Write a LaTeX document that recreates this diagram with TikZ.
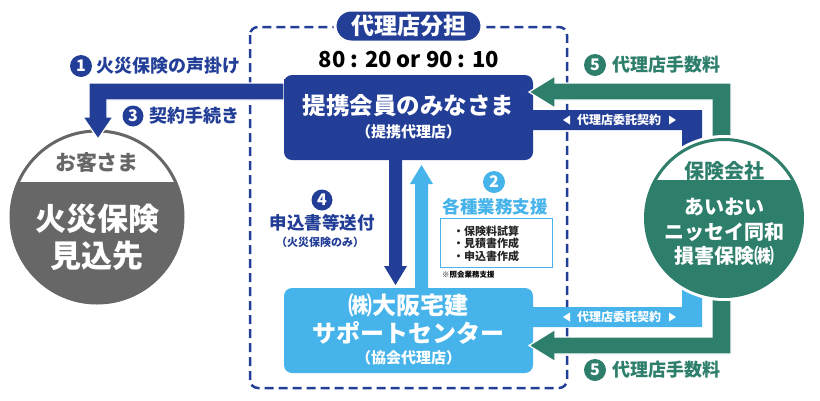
\documentclass[tikz,border=0pt]{standalone}
\usepackage{fontspec}
\setmainfont{Noto Sans CJK JP}[BoldFont={Noto Sans CJK JP Black}]
\definecolor{dblue}{HTML}{233E97}
\definecolor{lblue}{HTML}{46B3EA}
\definecolor{dgreen}{HTML}{2E7E6C}
\definecolor{dgray}{HTML}{676767}
\newcommand\fs[1]{\fontsize{#1}{#1}\selectfont}
\begin{document}
\begin{tikzpicture}[x=1pt,y=-1pt,
  every node/.style={inner sep=0pt, outer sep=0pt},
  lbl/.style={font=\bfseries\fs{#1}},
  numc/.style={circle, fill=#1, text=white, minimum size=22pt, font=\bfseries\fs{16}},
  mainbox/.style={rounded corners=8pt, minimum width=249pt, minimum height=85pt},
  tri/.style={fill=white}
]
\useasboundingbox (0,0) rectangle (820,400);

% dashed frame
\draw[dblue, line width=2.5pt, dash pattern=on 9pt off 5pt, rounded corners=8pt] (250,27) rectangle (567,388);
\node[fill=dblue, draw=white, line width=3pt, rounded corners=16pt, minimum width=147pt, minimum height=32pt, text=white, lbl=23] (pill) at (408.5,26) {代理店分担};
\node[lbl=22, text=black] (ratio) at (409,60) {80 : 20 or 90 : 10};

% boxes
\node[mainbox, fill=dblue] (member) at (408.5,117.5) {};
\node[mainbox, fill=lblue] (center) at (408.5,330.5) {};

% contract bars
\fill[dblue] (member.east |- 0,110) -- (702,110) -- (702,150) -- (682,150) -- (682,130) -- (member.east |- 0,130) -- cycle;
\fill[lblue] (center.east |- 0,327) -- (702,327) -- (702,285) -- (682,285) -- (682,307) -- (center.east |- 0,307) -- cycle;
\node[text=white, lbl=12] (ct1) at (619,120) {代理店委託契約};
\node[text=white, lbl=12] (ct2) at (619,317) {代理店委託契約};
\fill[tri] (563,120) -- (570,115.5) -- (570,124.5) -- cycle;
\fill[tri] (676,120) -- (669,115.5) -- (669,124.5) -- cycle;
\fill[tri] (563,317) -- (570,312.5) -- (570,321.5) -- cycle;
\fill[tri] (676,317) -- (669,312.5) -- (669,321.5) -- cycle;

% customer circle
\coordinate (cc) at (97,217);
\fill[white] (cc) circle (90);
\fill[dgray] (cc) circle (87);
\begin{scope}
  \clip (cc) circle (87);
  \fill[white] (0,120) rectangle (200,182);
\end{scope}
\draw[dgray, line width=3pt] (cc) circle (86);
\node[text=dgray, lbl=21] (cust1) at (97,163) {お客さま};
\node[text=white, lbl=31] (cust2) at (97,219) {火災保険};
\node[text=white, lbl=31] (cust3) at (97,256) {見込先};

% left arrow (dark blue)
\filldraw[dblue, draw=white, line width=1.2pt] (member.west |- 0,83) -- (89,83) -- (89,117) -- (83,117) -- (98,139) -- (113,117) -- (107,117) -- (107,100) -- (member.west |- 0,100) -- cycle;
\fill[dblue] (member.north west) ++(0,4) rectangle ++(4,30);

% green arrows
\filldraw[dgreen, draw=white, line width=1.2pt] (529,92) -- (555,76) -- (555,83) -- (731,83) -- (731,150) -- (712,150) -- (712,100) -- (555,100) -- (555,108) -- cycle;
\filldraw[dgreen, draw=white, line width=1.2pt] (529,345.5) -- (555,329.5) -- (555,337) -- (712,337) -- (712,285) -- (731,285) -- (731,354) -- (555,354) -- (555,361.5) -- cycle;

% insurance circle
\coordinate (ic) at (724,218);
\fill[white] (ic) circle (83);
\fill[dgreen] (ic) circle (79.5);
\begin{scope}
  \clip (ic) circle (79.5);
  \fill[white] (640,130) rectangle (810,180);
\end{scope}
\draw[dgreen, line width=3pt] (ic) circle (78.5);
\node[text=dgreen, lbl=20] (ins1) at (724,171) {保険会社};
\node[text=white, lbl=20] (ins2) at (724,207) {あいおい};
\node[text=white, lbl=20] (ins3) at (724,232) {ニッセイ同和};
\node[text=white, lbl=20] (ins4) at (724,256) {損害保険㈱};

% middle arrows
\fill[dblue] (389,160) -- (402,160) -- (402,266) -- (407,266) -- (395.5,285) -- (384,266) -- (389,266) -- cycle;
\fill[lblue] (415,288) -- (428,288) -- (428,184) -- (433,184) -- (421.5,165) -- (410,184) -- (415,184) -- cycle;

% box texts
\node[text=white, lbl=23.5] (m1) at (408.5,106) {提携会員のみなさま};
\node[text=white, lbl=15] (m2) at (408.5,132) {（提携代理店）};
\node[text=white, lbl=24] (s1) at (408.5,305) {㈱大阪宅建};
\node[text=white, lbl=24] (s2) at (408.5,333) {サポートセンター};
\node[text=white, lbl=15] (s3) at (408.5,358) {（協会代理店）};

% labels
\node[numc=dblue] (n1) at (81,66) {1};
\node[text=dblue, lbl=18, anchor=west] (l1) at (96,66) {火災保険の声掛け};
\node[numc=dblue, minimum size=21pt] (n3) at (133,116) {3};
\node[text=dblue, lbl=18, anchor=west] (l3) at (149,116) {契約手続き};
\node[numc=dgreen] (n5a) at (595,65) {5};
\node[text=dgreen, lbl=18, anchor=west] (l5a) at (612,65) {代理店手数料};
\node[numc=dgreen] (n5b) at (595,370) {5};
\node[text=dgreen, lbl=18, anchor=west] (l5b) at (612,370) {代理店手数料};
\node[numc=dblue, minimum size=21pt] (n4) at (322,200) {4};
\node[text=dblue, lbl=17.5] (l4) at (322,223) {申込書等送付};
\node[text=dblue, lbl=11] (l4b) at (320,242) {（火災保険のみ）};
\node[numc=lblue] (n2) at (494,182) {2};
\node[text=lblue, lbl=17.5] (l2) at (495,207) {各種業務支援};
\node[draw=lblue, line width=1pt, minimum width=112pt, minimum height=49pt] (listbox) at (496,242.5) {};
\node[text=black!85, lbl=11, anchor=west, align=left] (list) at (453,243.5) {・保険料試算\\[1.5pt]・見積書作成\\[1.5pt]・申込書作成};
\node[text=black, lbl=7.5, anchor=west] (note) at (442,275) {※照会業務支援};
\end{tikzpicture}
\end{document}
